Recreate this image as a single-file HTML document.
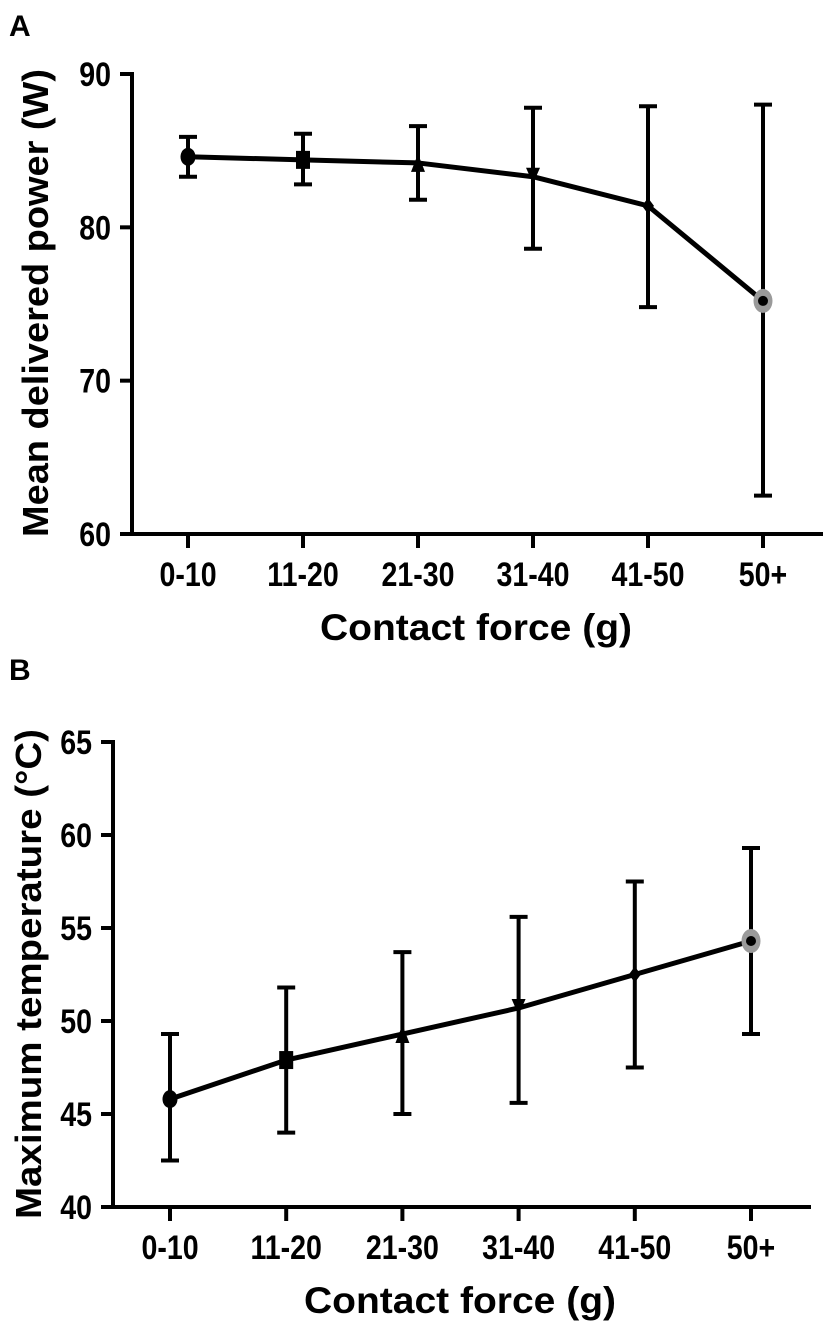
<!DOCTYPE html>
<html><head><meta charset="utf-8"><style>
html,body{margin:0;padding:0;background:#fff;}
svg{display:block;font-family:"Liberation Sans",Arial,sans-serif;font-weight:bold;}
</style></head><body>
<svg id="fig" width="827" height="1326" viewBox="0 0 827 1326">
<text x="9" y="36" font-size="30">A</text>
<text x="9" y="680" font-size="30">B</text>
</svg>
<script>
const categories = ["0-10","11-20","21-30","31-40","41-50","50+"];
const powerMean = [84.6, 84.4, 84.2, 83.3, 81.4, 75.2];
const powerUpper = [85.9, 86.1, 86.6, 87.8, 87.9, 88.0];
const powerLower = [83.3, 82.8, 81.8, 78.6, 74.8, 62.5];
const powerTicks = [60, 70, 80, 90];
const tempMean = [45.8, 47.9, 49.3, 50.7, 52.5, 54.3];
const tempUpper = [49.3, 51.8, 53.7, 55.6, 57.5, 59.3];
const tempLower = [42.5, 44.0, 45.0, 45.6, 47.5, 49.3];
const tempTicks = [40, 45, 50, 55, 60, 65];
const markers = ["circle","square","triangle","invtriangle","diamond","gray"];

const NS = "http://www.w3.org/2000/svg";
const svg = document.getElementById("fig");
function mk(tag, attrs, parent){
  const e = document.createElementNS(NS, tag);
  for (const k in attrs) e.setAttribute(k, attrs[k]);
  (parent||svg).appendChild(e);
  return e;
}

function panel(cfg){
  const g = mk("g", {});
  
  
  const yScale = v => cfg.yBottom - (v - cfg.yMin) / (cfg.yMax - cfg.yMin) * (cfg.yBottom - cfg.yTop);
  const xScale = i => cfg.x0 + i * cfg.dx;
  const ya = mk("line", {x1:cfg.axisX, y1:cfg.yTop-2, x2:cfg.axisX, y2:cfg.yBottom+2, stroke:"#000","stroke-width":4}, g);
  
  
  const xa = mk("line", {x1:cfg.axisX-2, y1:cfg.yBottom, x2:cfg.xEnd, y2:cfg.yBottom, stroke:"#000","stroke-width":4}, g);
  
  
  cfg.ticks.forEach(t => {
    const y = yScale(t);
    const tl = mk("line", {x1:cfg.axisX-12, y1:y, x2:cfg.axisX, y2:y, stroke:"#000","stroke-width":4}, g);
    
    
    const tx = mk("text", {x:0, y:0, "font-size":34, "text-anchor":"end", transform:`translate(${cfg.axisX-21},${y+12}) scale(0.84,1)`}, g);
    tx.textContent = t;
    
    
  });
  categories.forEach((c, i) => {
    const x = xScale(i);
    const tl = mk("line", {x1:x, y1:cfg.yBottom, x2:x, y2:cfg.yBottom+14, stroke:"#000","stroke-width":4}, g);
    
    
    const tx = mk("text", {x:0, y:0, "font-size":34, "text-anchor":"middle", transform:`translate(${x},${cfg.yBottom+52}) scale(0.84,1)`}, g);
    tx.textContent = c;
    
    
  });
  const xt = mk("text", {x:cfg.xTitleX, y:cfg.yBottom+106, "font-size":37, "text-anchor":"middle", textLength:312, lengthAdjust:"spacingAndGlyphs"}, g);
  xt.textContent = "Contact force (g)";
  
  
  const yt = mk("text", {x:0, y:0, "font-size":36, "text-anchor":"middle", textLength:cfg.yTitleLen, lengthAdjust:"spacingAndGlyphs", transform:`translate(${cfg.yTitleX},${cfg.yTitleY}) rotate(-90)`}, g);
  yt.textContent = cfg.yTitle;
  
  
  cfg.mean.forEach((m, i) => {
    const x = xScale(i), yu = yScale(cfg.upper[i]), yl = yScale(cfg.lower[i]);
    const eb = mk("g", {stroke:"#000","stroke-width":4}, g);
    
    
    mk("line", {x1:x, y1:yu, x2:x, y2:yl}, eb);
    mk("line", {x1:x-9, y1:yu, x2:x+9, y2:yu}, eb);
    mk("line", {x1:x-9, y1:yl, x2:x+9, y2:yl}, eb);
  });
  const pts = cfg.mean.map((m, i) => xScale(i) + "," + yScale(m)).join(" ");
  const pl = mk("polyline", {points:pts, fill:"none", stroke:"#000", "stroke-width":5, "stroke-linejoin":"round"}, g);
  
  
  cfg.mean.forEach((m, i) => {
    const x = xScale(i), y = yScale(m);
    let e;
    switch (markers[i]) {
      case "circle": e = mk("ellipse", {cx:x, cy:y, rx:7.5, ry:9, fill:"#000"}, g); break;
      case "square": e = mk("rect", {x:x-7, y:y-9, width:14, height:18, fill:"#000"}, g); break;
      case "triangle": e = mk("polygon", {points:`${x},${y-9} ${x+7},${y+9} ${x-7},${y+9}`, fill:"#000"}, g); break;
      case "invtriangle": e = mk("polygon", {points:`${x-7},${y-9} ${x+7},${y-9} ${x},${y+7}`, fill:"#000"}, g); break;
      case "diamond": e = mk("polygon", {points:`${x},${y-8} ${x+6},${y} ${x},${y+8} ${x-6},${y}`, fill:"#000"}, g); break;
      default:
        e = mk("g", {}, g);
        mk("ellipse", {cx:x, cy:y, rx:9.5, ry:12, fill:"#9a9a9a"}, e);
        mk("circle", {cx:x, cy:y, r:5, fill:"#000"}, e);
    }
    
    
  });
}

panel({name:"panel-a-power-chart", axisX:132, yTop:74, yBottom:534, yMin:60, yMax:90, ticks:powerTicks,
  x0:188, dx:115, xEnd:823, xTitleX:476, mean:powerMean, upper:powerUpper, lower:powerLower,
  yTitle:"Mean delivered power (W)", yTitleX:48, yTitleY:303, yTitleLen:468});
panel({name:"panel-b-temperature-chart", axisX:113, yTop:742, yBottom:1207, yMin:40, yMax:65, ticks:tempTicks,
  x0:170, dx:116.2, xEnd:811, xTitleX:460, mean:tempMean, upper:tempUpper, lower:tempLower,
  yTitle:"Maximum temperature (°C)", yTitleX:41, yTitleY:974, yTitleLen:490});
</script>
</body></html>
